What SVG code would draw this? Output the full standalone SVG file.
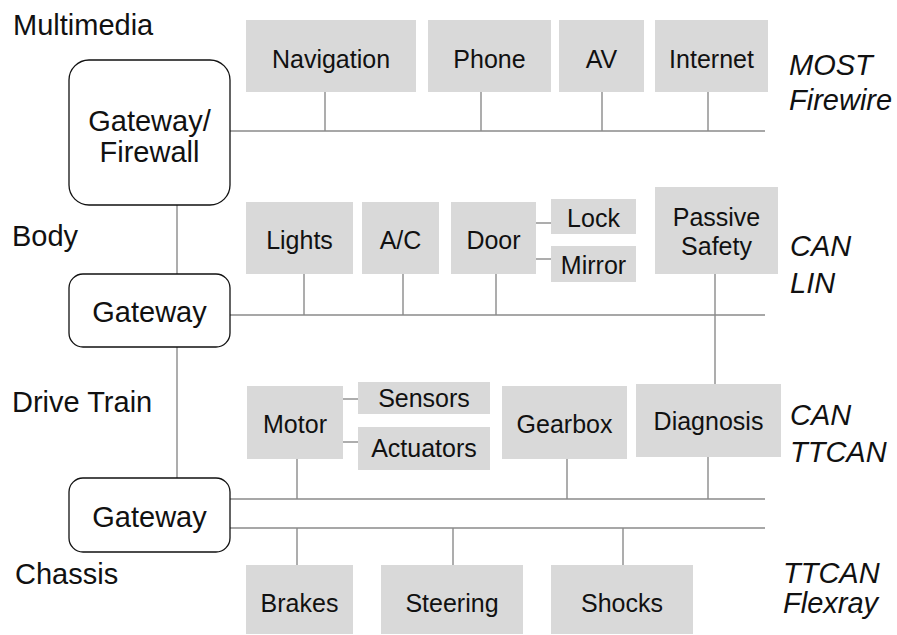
<svg xmlns="http://www.w3.org/2000/svg" width="897" height="635" viewBox="0 0 897 635">
<style>
text{font-family:"Liberation Sans",Arial,sans-serif;fill:#111}
.n{font-size:25px;text-anchor:middle}
.g{font-size:29px;text-anchor:middle}
.lab{font-size:29px}
.p{font-size:29px;font-style:italic}
.box{fill:#d9d9d9}
.gw{fill:#fff;stroke:#111;stroke-width:1.3}
.c line{stroke:#8a8a8a;stroke-width:1.4}
</style>
<rect width="897" height="635" fill="#fff"/>
<g id="labels">
<text class="lab" x="13" y="35">Multimedia</text>
<text class="lab" x="12" y="246">Body</text>
<text class="lab" x="12" y="412">Drive Train</text>
<text class="lab" x="15" y="584">Chassis</text>
<text class="p" x="789" y="75">MOST</text>
<text class="p" x="789" y="110">Firewire</text>
<text class="p" x="790" y="256">CAN</text>
<text class="p" x="790" y="293">LIN</text>
<text class="p" x="790" y="425">CAN</text>
<text class="p" x="790" y="462">TTCAN</text>
<text class="p" x="783" y="583">TTCAN</text>
<text class="p" x="783" y="613">Flexray</text>
</g>
<g class="c" id="connectors">
<line x1="230" y1="131" x2="765" y2="131"/>
<line x1="325" y1="92" x2="325" y2="131"/>
<line x1="481" y1="92" x2="481" y2="131"/>
<line x1="602" y1="92" x2="602" y2="131"/>
<line x1="708" y1="92" x2="708" y2="131"/>
<line x1="177" y1="205" x2="177" y2="274"/>
<line x1="177" y1="347" x2="177" y2="478"/>
<line x1="230" y1="315" x2="765" y2="315"/>
<line x1="304" y1="274" x2="304" y2="315"/>
<line x1="403" y1="274" x2="403" y2="315"/>
<line x1="496" y1="274" x2="496" y2="315"/>
<line x1="536" y1="223" x2="551" y2="223"/>
<line x1="536" y1="259" x2="551" y2="259"/>
<line x1="715" y1="274" x2="715" y2="384"/>
<line x1="230" y1="499" x2="765" y2="499"/>
<line x1="230" y1="528" x2="765" y2="528"/>
<line x1="297" y1="459" x2="297" y2="499"/>
<line x1="343" y1="399" x2="358" y2="399"/>
<line x1="343" y1="442" x2="358" y2="442"/>
<line x1="567" y1="459" x2="567" y2="499"/>
<line x1="708" y1="457" x2="708" y2="499"/>
<line x1="297" y1="528" x2="297" y2="565"/>
<line x1="453" y1="528" x2="453" y2="565"/>
<line x1="623" y1="528" x2="623" y2="565"/>
</g>
<g id="gw-firewall"><rect class="gw" x="69" y="60" width="161" height="145" rx="20"/><text class="g" x="149.5" y="131">Gateway/</text><text class="g" x="149.5" y="162">Firewall</text></g>
<g id="gw-body"><rect class="gw" x="69" y="274" width="161" height="73" rx="14"/><text class="g" x="149.5" y="322">Gateway</text></g>
<g id="gw-drive"><rect class="gw" x="69" y="478" width="161" height="74" rx="14"/><text class="g" x="149.5" y="527">Gateway</text></g>
<g id="navigation"><rect class="box" x="246" y="20" width="170" height="72"/><text class="n" x="331" y="68">Navigation</text></g>
<g id="phone"><rect class="box" x="428" y="20" width="123" height="72"/><text class="n" x="489.5" y="67.5">Phone</text></g>
<g id="av"><rect class="box" x="559" y="20" width="85" height="72"/><text class="n" x="601.5" y="67.5">AV</text></g>
<g id="internet"><rect class="box" x="655" y="20" width="113" height="72"/><text class="n" x="711.5" y="67.5">Internet</text></g>
<g id="lights"><rect class="box" x="246" y="202" width="107" height="72"/><text class="n" x="299.5" y="249">Lights</text></g>
<g id="ac"><rect class="box" x="362" y="202" width="77" height="72"/><text class="n" x="400.5" y="249">A/C</text></g>
<g id="door"><rect class="box" x="451" y="202" width="85" height="72"/><text class="n" x="493.5" y="249">Door</text></g>
<g id="lock"><rect class="box" x="551" y="199" width="85" height="35"/><text class="n" x="593.5" y="227">Lock</text></g>
<g id="mirror"><rect class="box" x="551" y="246" width="85" height="36"/><text class="n" x="593.5" y="274">Mirror</text></g>
<g id="passive"><rect class="box" x="655" y="187" width="123" height="87"/><text class="n" x="716.5" y="226">Passive</text><text class="n" x="716.5" y="255">Safety</text></g>
<g id="motor"><rect class="box" x="247" y="386" width="96" height="73"/><text class="n" x="295" y="433">Motor</text></g>
<g id="sensors"><rect class="box" x="358" y="382" width="132" height="32"/><text class="n" x="424" y="407">Sensors</text></g>
<g id="actuators"><rect class="box" x="358" y="427" width="132" height="43"/><text class="n" x="424" y="457">Actuators</text></g>
<g id="gearbox"><rect class="box" x="502" y="386" width="125" height="73"/><text class="n" x="564.5" y="433">Gearbox</text></g>
<g id="diagnosis"><rect class="box" x="636" y="384" width="145" height="73"/><text class="n" x="708.5" y="430">Diagnosis</text></g>
<g id="brakes"><rect class="box" x="246" y="565" width="107" height="69"/><text class="n" x="299.5" y="612">Brakes</text></g>
<g id="steering"><rect class="box" x="381" y="565" width="142" height="69"/><text class="n" x="452" y="612">Steering</text></g>
<g id="shocks"><rect class="box" x="551" y="565" width="142" height="69"/><text class="n" x="622" y="612">Shocks</text></g>
</svg>
